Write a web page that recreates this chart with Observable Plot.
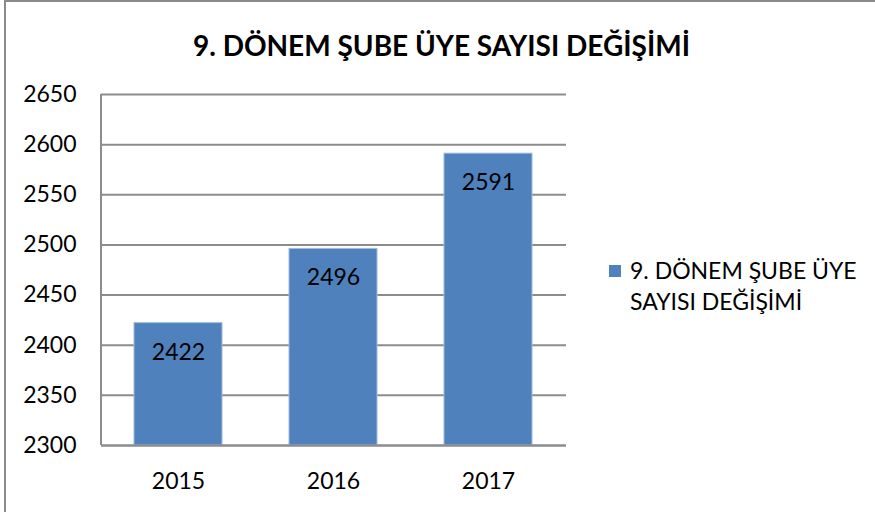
<!DOCTYPE html>
<html>
<head>
<meta charset="utf-8">
<script src="https://cdn.jsdelivr.net/npm/d3@7"></script>
<script src="https://cdn.jsdelivr.net/npm/@observablehq/plot@0.6"></script>
<style>
  html, body { margin: 0; padding: 0; background: #fff; }
  #wrap { position: relative; width: 875px; height: 512px; overflow: hidden; font-family: Lato, "Open Sans", sans-serif; }
  #border { position: absolute; left: 4px; top: 0px; right: -10px; bottom: -10px; border-left: 2px solid #8a8a8a; border-top: 2px solid #8a8a8a; }
  #title { height: 70px; line-height: 90px; text-align: center; font-weight: 700; font-size: 28px; color: #000; padding-left: 8px; box-sizing: border-box; white-space: nowrap; }
  #legend { position: absolute; left: 609px; top: 255px; display: flex; align-items: flex-start; font-size: 23px; line-height: 31px; color: #000; }
  #legend .sw { width: 12px; height: 12px; background: #4f81bd; margin-top: 10px; margin-right: 9px; flex: none; }
  svg { display: block; }
</style>
</head>
<body>
<div id="wrap">
  <div id="border"></div>
  <div id="title"></div>
  <div id="chart"></div>
  <div id="legend"><div class="sw"></div><div class="lt"></div></div>
</div>
<script>
const titleText = "9. DÖNEM ŞUBE ÜYE SAYISI DEĞİŞİMİ";
const legendLines = ["9. DÖNEM ŞUBE ÜYE", "SAYISI DEĞİŞİMİ"];
const years = ["2015", "2016", "2017"];
const members = [2422, 2496, 2591];
const yTicks = [2300, 2350, 2400, 2450, 2500, 2550, 2600, 2650];

const data = years.map((y, i) => ({year: y, value: members[i]}));

document.getElementById("title").textContent = titleText;
document.querySelector("#legend .lt").innerHTML = legendLines.join("<br>");

const baseY = yTicks[0];
const padIn = 0.432, padOut = 0.216;
const plotW = 875 - 101 - 309;
const step = plotW / (years.length - padIn + 2 * padOut);
const leftOffset = step * padOut + step * (1 - padIn) / 2;

const chart = Plot.plot({
  width: 875,
  height: 442,
  marginLeft: 101,
  marginRight: 309,
  marginTop: 24,
  marginBottom: 67,
  style: {fontFamily: "Lato, 'Open Sans', sans-serif", fontSize: "23px", color: "#000", background: "transparent"},
  x: {domain: years, paddingInner: padIn, paddingOuter: padOut, label: null},
  y: {domain: [yTicks[0], yTicks[yTicks.length - 1]], label: null},
  marks: [
    Plot.gridY(yTicks, {stroke: "#8c8c8c", strokeOpacity: 1, strokeWidth: 2}),
    Plot.barY(data, {x: "year", y1: baseY, y2: "value", fill: "#4f81bd", stroke: "#9fb9dc", strokeWidth: 1}),
    Plot.text(data, {x: "year", y: "value", text: d => String(d.value), dy: 29, fill: "#000", fontSize: 23}),
    Plot.axisY(yTicks, {tickSize: 0, tickPadding: 25, fill: "#000", tickFormat: d => String(d)}),
    Plot.axisX({tickSize: 0, tickPadding: 27, fill: "#000"}),
    Plot.ruleX([years[0]], {x: d => d, y1: yTicks[0], y2: yTicks[yTicks.length - 1], dx: -leftOffset, stroke: "#8c8c8c", strokeWidth: 2}),
    Plot.ruleY([baseY], {stroke: "#8c8c8c", strokeWidth: 2})
  ]
});
document.getElementById("chart").appendChild(chart);
</script>
</body>
</html>
